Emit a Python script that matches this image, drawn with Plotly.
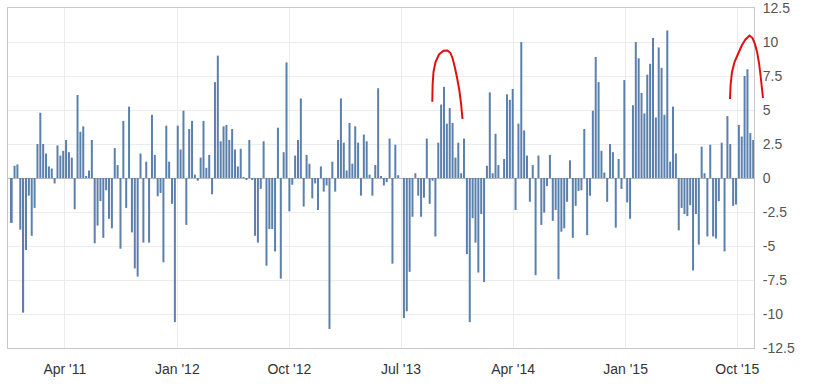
import datetime as dt
import plotly.graph_objects as go

# ---- data -------------------------------------------------------------
start_date = dt.date(2010, 11, 22)          # first weekly bar
weekly_values = [
    -3.3, 0.9, 1.0, -3.8, -9.9, -5.3, -1.3, -4.25, -2.2, 2.5,
    4.8, 2.5, 1.8, 0.85, 0.7, -0.4, 2.4, 1.65, 2.0, 2.8,
    1.9, 1.5, -2.3, 6.1, 3.4, 3.8, 0.1, 0.55, 2.8, -4.8,
    -3.5, -1.7, -4.4, -0.9, -3.0, -3.7, 2.2, 0.95, -5.2, 4.2,
    -2.2, 5.25,
    -4.0, -6.65, -7.25, 1.8, -4.75, 1.2, -4.75, 4.65, 1.7, -1.35,
    -1.1, -6.2, 3.85, 1.2, -1.9, -10.6, 3.85, 2.1, 4.95, -3.45,
    3.6, 4.2, 0.25, -0.2, 1.5, 4.2, 0.75, 1.7, -1.2, 7.05,
    9.0, 2.7, 3.8, 3.9, 2.8, 3.6, 2.1, 0.85, 2.15, 0.05,
    -0.15, 2.8, -0.1, -4.25,
    -4.75, -0.8, 2.7, -6.45, -3.75, -3.75, -5.4, 3.7, -7.4, 1.9,
    8.5, -2.45, -0.5, 1.65, 2.8, 5.85, -2.1, 1.7, 1.05, -1.5,
    -0.4, -2.35, 0.85, -1.0, -0.55, -11.1, 1.2, -1.0, 2.8, 5.85,
    2.6, 0.55, 4.05, 1.05, 3.8, 2.6, -1.3, 3.2, 2.7, 0.25,
    -1.3, 0.95, 6.6,
    0.1, -0.55, -0.3, 2.9, -6.3, 2.45, 0.2, 0.0, -10.3, -9.8,
    -6.9, -2.85, 0.35, -1.3, -2.85, -1.45, 2.9, -1.9, -0.2, -4.3,
    2.6, 5.4, 6.7, 4.0, 5.15, 4.05, 1.5, 2.6, 0.35, 2.9,
    -5.6, -10.6, -2.95, -4.75, -6.95, -2.65, -7.65, 0.9, 6.3, 0.35,
    3.25, 0.95, 0.0, 1.4,
    6.15, 5.75, 6.55, -2.35, 4.0, 10.0, 3.5, 1.65, -1.75, 0.95,
    -7.15, 1.65, -3.45, -2.55, -0.6, 1.7, -3.15, -2.35, -7.45, -3.95,
    -3.7, -1.75, 1.3, -4.4, -2.05, -0.95, -0.9, 3.6, -4.2, -1.3,
    4.95, 8.9, 7.05, 2.0, 0.4, -1.75, 2.5, 1.9, -3.65, 1.4,
    -0.8, 7.2, -1.8, -3.0,
    5.35, 10.0, 8.8, 6.25, 4.75, 7.6, 8.4, 10.3, 4.45, 9.6,
    8.1, 4.65, 10.85, 1.2, 5.25, 1.8, -3.85, -2.2, -2.65, -2.8,
    -2.0, -6.8, -2.65, -4.9, 2.3, 0.35, -4.3, 2.45, -4.3, -4.45,
    -1.7, 2.6, -5.4, 4.55, 2.5, -2.05, -1.95, 3.9, 3.05, 7.5,
    8.0, 3.3, 2.8,
]
weekly_dates = [start_date + dt.timedelta(weeks=i) for i in range(len(weekly_values))]

x_tick_dates = ["2011-04-01", "2012-01-01", "2012-10-01", "2013-07-01",
                "2014-04-01", "2015-01-01", "2015-10-01"]
x_tick_labels = ["Apr '11", "Jan '12", "Oct '12", "Jul '13",
                 "Apr '14", "Jan '15", "Oct '15"]
y_tick_values = [12.5, 10, 7.5, 5, 2.5, 0, -2.5, -5, -7.5, -10, -12.5]
y_tick_labels = ["12.5", "10", "7.5", "5", "2.5", "0", "-2.5", "-5", "-7.5", "-10", "-12.5"]

# hand-drawn red marker strokes (annotation, pixel positions on the 827x392 canvas)
stroke_1 = [(432.3, 101.7), (432.6, 85), (433.5, 72), (435.5, 62), (439, 54.5),
            (443.5, 50.8), (447.5, 50.5), (450.5, 53), (452.8, 59), (455, 68),
            (457.3, 79), (459.3, 90), (461, 103), (462.5, 119)]
stroke_2 = [(730, 99), (730.6, 85), (732, 72), (734.5, 62), (738, 54),
            (742, 45), (745.5, 39.5), (749.5, 35.5), (752.5, 38), (755, 44),
            (757.3, 53), (759, 63), (760.5, 75), (761.8, 87), (763, 98)]

# ---- figure -----------------------------------------------------------
W, H = 827, 392
M_L, M_R, M_T, M_B = 8, 73, 8, 44
plot_w = W - M_L - M_R
plot_h = H - M_T - M_B


def stroke_path(points):
    parts = []
    for i, (px, py) in enumerate(points):
        xp = (px - M_L) / plot_w
        yp = (H - M_B - py) / plot_h
        parts.append(("M" if i == 0 else "L") + f"{xp:.5f},{yp:.5f}")
    return " ".join(parts)


fig = go.Figure(
    go.Bar(
        x=weekly_dates,
        y=weekly_values,
        width=4.9 * 86400000,
        marker=dict(color="#5b80ad", line=dict(width=0)),
        hoverinfo="x+y",
    )
)

fig.update_layout(
    width=W,
    height=H,
    autosize=False,
    margin=dict(l=M_L, r=M_R, t=M_T, b=M_B, pad=0),
    paper_bgcolor="white",
    plot_bgcolor="white",
    showlegend=False,
    font=dict(family="Liberation Sans, Arial, sans-serif", size=14, color="#333"),
    xaxis=dict(
        type="date",
        range=["2010-11-13", "2015-11-11"],
        tickmode="array",
        tickvals=x_tick_dates,
        ticktext=x_tick_labels,
        showgrid=True,
        gridcolor="#ececec",
        gridwidth=1,
        showline=True,
        linecolor="#c8c8c8",
        linewidth=1,
        mirror=True,
        ticks="outside",
        ticklen=8,
        tickcolor="rgba(0,0,0,0)",
        tickfont=dict(size=14, color="#333"),
        zeroline=False,
        automargin=False,
    ),
    yaxis=dict(
        side="right",
        range=[-12.5, 12.5],
        tickmode="array",
        tickvals=y_tick_values,
        ticktext=y_tick_labels,
        showgrid=True,
        gridcolor="#ececec",
        gridwidth=1,
        showline=True,
        linecolor="#c8c8c8",
        linewidth=1,
        mirror=True,
        ticks="outside",
        ticklen=5,
        tickcolor="rgba(0,0,0,0)",
        tickfont=dict(size=14, color="#555"),
        ticklabeloverflow="allow",
        zeroline=True,
        zerolinecolor="#b5b5b5",
        zerolinewidth=1,
        automargin=False,
    ),
    shapes=[
        dict(type="path", xref="paper", yref="paper", path=stroke_path(stroke_1),
             line=dict(color="#e01010", width=2), layer="above"),
        dict(type="path", xref="paper", yref="paper", path=stroke_path(stroke_2),
             line=dict(color="#e01010", width=2), layer="above"),
    ],
)

fig.write_html(
    "out.html",
    config={"displayModeBar": False},
    post_script="document.body.style.margin='0';document.body.style.overflow='hidden';",
)
